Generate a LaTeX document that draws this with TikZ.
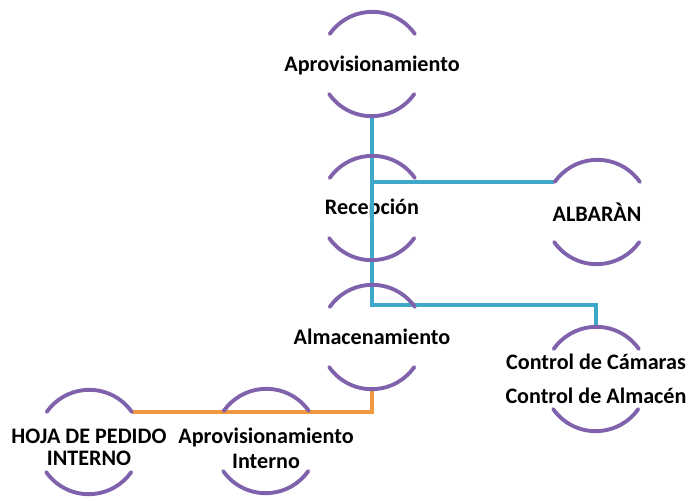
\documentclass[tikz,border=0pt]{standalone}
\usepackage{fontspec}
\setmainfont{Carlito}
\usetikzlibrary{positioning}

\definecolor{ringpurple}{RGB}{128,98,172}
\definecolor{flowcyan}{RGB}{62,168,200}
\definecolor{floworange}{RGB}{240,152,62}

\begin{document}
\begin{tikzpicture}[x=0.02cm, y=-0.02cm,
  ring/.style={circle, minimum size=2.08cm, inner sep=0pt},
  every label/.style={font=\bfseries\fontsize{12.6}{13}\selectfont, align=center, inner sep=1pt},
  arcline/.style={draw=ringpurple, line width=2.2pt, line cap=round},
  cyanline/.style={draw=flowcyan, line width=2.6pt},
  orangeline/.style={draw=floworange, line width=2.4pt}]
  \useasboundingbox (0,0) rectangle (689,500);

  \node[ring, label={[yshift=-1pt]center:Aprovisionamiento}] (apro) at (372,64) {};
  \node[ring, label={center:Recepción}] (recep) at (372,208) {};
  \node[ring, label={center:ALBARÀN}] (alb) at (597,212) {};
  \node[ring, label={center:Almacenamiento}] (almac) at (372,337) {};
  \node[ring, label={center:Control de Cámaras\\[6pt]Control de Almacén}] (ctrl) at (596,379) {};
  \node[ring, label={[yshift=-3pt]center:HOJA DE PEDIDO\\INTERNO}] (hoja) at (89,442) {};
  \node[ring, label={[yshift=-4pt]center:Aprovisionamiento\\[1pt]Interno}] (apint) at (266,441) {};
  \coordinate (split) at (596,305);

  % connectors
  \draw[cyanline] (apro.south) |- (split) -- (ctrl.north);
  \draw[cyanline] (apro.south |- alb.145) -- (alb.145);
  \draw[orangeline] (hoja.35) -| (almac.south);

  % broken rings
  \foreach \n in {apro,recep,alb,almac,ctrl,hoja,apint}{
    \draw[arcline] (\n.35) arc[start angle=35, end angle=145, radius=1.04cm];
    \draw[arcline] (\n.215) arc[start angle=215, end angle=325, radius=1.04cm];
  }
\end{tikzpicture}
\end{document}
